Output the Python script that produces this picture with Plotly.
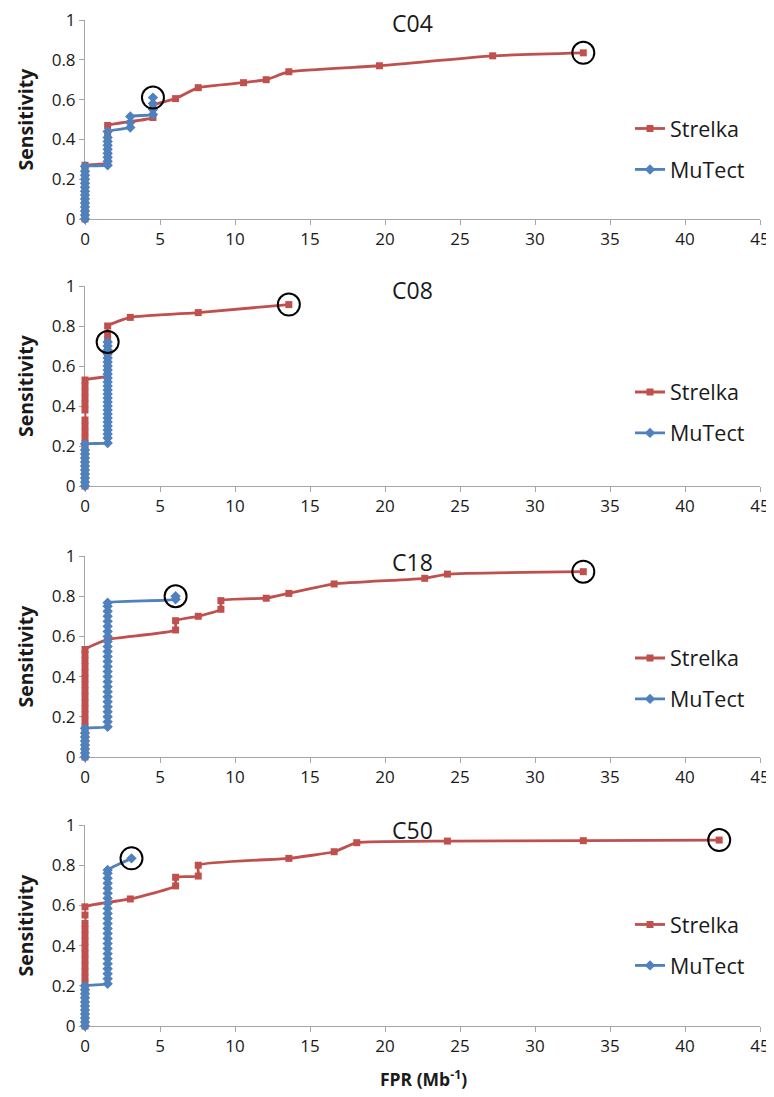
import plotly.graph_objects as go

# ---------------- data (FPR per Mb, sensitivity) ----------------
samples = ["C04", "C08", "C18", "C50"]

c04_strelka_fpr = [0, 0, 0, 0, 0, 0, 0, 0, 0, 0,
                   1.51, 1.51, 1.51, 1.51, 1.51, 1.51, 1.51,
                   4.53, 4.53, 6.04, 7.55, 10.57, 12.08, 13.59, 19.63, 27.18, 33.22]
c04_strelka_sens = [0, 0.03, 0.06, 0.09, 0.12, 0.15, 0.18, 0.21, 0.24, 0.27,
                    0.28, 0.31, 0.34, 0.37, 0.40, 0.43, 0.47,
                    0.51, 0.57, 0.605, 0.66, 0.685, 0.70, 0.74, 0.77, 0.82, 0.835]
c04_mutect_fpr = [0, 0, 0, 0, 0, 0, 0, 0, 0, 0, 0, 0, 0, 0,
                  1.51, 1.51, 1.51, 1.51, 1.51, 1.51, 1.51, 1.51, 1.51,
                  3.02, 3.02, 3.02, 4.53, 4.53, 4.53, 4.53]
c04_mutect_sens = [0, 0.02, 0.04, 0.06, 0.08, 0.10, 0.12, 0.14, 0.16, 0.18, 0.20, 0.22, 0.24, 0.265,
                   0.27, 0.29, 0.31, 0.33, 0.35, 0.37, 0.39, 0.41, 0.44,
                   0.46, 0.485, 0.515, 0.525, 0.55, 0.58, 0.61]

c08_strelka_fpr = [0, 0, 0, 0, 0, 0, 0, 0, 0, 0, 0, 0, 0, 0, 0, 0, 0, 0,
                   1.51, 1.51, 1.51, 1.51, 1.51, 1.51, 1.51, 1.51, 1.51,
                   3.02, 7.55, 13.59]
c08_strelka_sens = [0, 0.03, 0.06, 0.09, 0.12, 0.15, 0.18, 0.21, 0.24, 0.27, 0.30, 0.33,
                    0.38, 0.41, 0.44, 0.47, 0.50, 0.53,
                    0.55, 0.58, 0.61, 0.64, 0.67, 0.70, 0.73, 0.76, 0.80,
                    0.843, 0.867, 0.907]
c08_mutect_fpr = [0, 0, 0, 0, 0, 0, 0, 0, 0, 0, 0,
                  1.51, 1.51, 1.51, 1.51, 1.51, 1.51, 1.51, 1.51, 1.51, 1.51, 1.51, 1.51, 1.51,
                  1.51, 1.51, 1.51, 1.51, 1.51, 1.51, 1.51, 1.51, 1.51, 1.51, 1.51, 1.51, 1.51]
c08_mutect_sens = [0, 0.02, 0.04, 0.06, 0.08, 0.10, 0.12, 0.14, 0.16, 0.18, 0.21,
                   0.215, 0.24, 0.26, 0.28, 0.30, 0.32, 0.34, 0.36, 0.38, 0.40, 0.42, 0.44, 0.46,
                   0.48, 0.50, 0.52, 0.54, 0.56, 0.58, 0.60, 0.62, 0.64, 0.66, 0.68, 0.70, 0.72]

c18_strelka_fpr = [0, 0, 0, 0, 0, 0, 0, 0, 0, 0, 0, 0, 0, 0, 0, 0, 0, 0, 0,
                   1.51, 6.04, 6.04, 7.55, 9.06, 9.06, 12.08, 13.59, 16.61, 22.65, 24.16, 33.22]
c18_strelka_sens = [0, 0.03, 0.06, 0.09, 0.12, 0.15, 0.18, 0.21, 0.24, 0.27, 0.30, 0.33,
                    0.36, 0.39, 0.42, 0.45, 0.48, 0.51, 0.535,
                    0.585, 0.632, 0.678, 0.70, 0.735, 0.778, 0.79, 0.814, 0.861, 0.889, 0.91, 0.922]
c18_mutect_fpr = [0, 0, 0, 0, 0, 0, 0, 0,
                  1.51, 1.51, 1.51, 1.51, 1.51, 1.51, 1.51, 1.51, 1.51, 1.51, 1.51, 1.51, 1.51,
                  1.51, 1.51, 1.51, 1.51, 1.51, 1.51, 1.51, 1.51, 1.51, 1.51, 1.51, 1.51, 1.51,
                  6.04, 6.04]
c18_mutect_sens = [0, 0.02, 0.04, 0.06, 0.08, 0.10, 0.12, 0.143,
                   0.15, 0.175, 0.20, 0.225, 0.25, 0.275, 0.30, 0.325, 0.35, 0.375, 0.40, 0.425, 0.45,
                   0.475, 0.50, 0.525, 0.55, 0.575, 0.60, 0.625, 0.65, 0.675, 0.70, 0.725, 0.75, 0.768,
                   0.785, 0.80]

c50_strelka_fpr = [0, 0, 0, 0, 0, 0, 0, 0, 0, 0, 0, 0, 0, 0, 0, 0, 0, 0, 0, 0,
                   3.02, 6.04, 6.04, 7.55, 7.55, 13.59, 16.61, 18.12, 24.16, 33.22, 42.28]
c50_strelka_sens = [0, 0.03, 0.06, 0.09, 0.12, 0.15, 0.18, 0.21, 0.24, 0.27, 0.30, 0.33,
                    0.36, 0.39, 0.42, 0.45, 0.48, 0.51, 0.552, 0.593,
                    0.632, 0.697, 0.74, 0.746, 0.80, 0.834, 0.867, 0.912, 0.92, 0.922, 0.925]
c50_mutect_fpr = [0, 0, 0, 0, 0, 0, 0, 0, 0, 0, 0,
                  1.51, 1.51, 1.51, 1.51, 1.51, 1.51, 1.51, 1.51, 1.51, 1.51, 1.51, 1.51,
                  1.51, 1.51, 1.51, 1.51, 1.51, 1.51, 1.51, 1.51, 1.51, 1.51, 1.51, 1.51,
                  3.10]
c50_mutect_sens = [0, 0.02, 0.04, 0.06, 0.08, 0.10, 0.12, 0.14, 0.16, 0.18, 0.20,
                   0.21, 0.235, 0.26, 0.285, 0.31, 0.335, 0.36, 0.385, 0.41, 0.435, 0.46, 0.485,
                   0.51, 0.535, 0.56, 0.585, 0.61, 0.635, 0.66, 0.685, 0.71, 0.735, 0.76, 0.776,
                   0.834]

x_ticks = [0, 5, 10, 15, 20, 25, 30, 35, 40, 45]
y_ticks = [0, 0.2, 0.4, 0.6, 0.8, 1]

series = {
    "C04": (c04_strelka_fpr, c04_strelka_sens, c04_mutect_fpr, c04_mutect_sens),
    "C08": (c08_strelka_fpr, c08_strelka_sens, c08_mutect_fpr, c08_mutect_sens),
    "C18": (c18_strelka_fpr, c18_strelka_sens, c18_mutect_fpr, c18_mutect_sens),
    "C50": (c50_strelka_fpr, c50_strelka_sens, c50_mutect_fpr, c50_mutect_sens),
}

# ---------------- styling / layout ----------------
RED = "#C0504D"
BLUE = "#4F81BD"
AXIS = "#A6A6A6"
FONT = "Open Sans"
TXT = "#1a1a1a"

# the page body has an 8px margin, so the figure is drawn 8px smaller and
# all page-pixel positions below are shifted by that offset
OFF = 8
W, H = 774 - OFF, 1097 - OFF
PLOT_L, PLOT_R, PLOT_T, PLOT_B = 85, 760, 20, 1026        # page pixels
ML, MR = PLOT_L - OFF, W - (PLOT_R - OFF)
MT, MB = PLOT_T - OFF, H - (PLOT_B - OFF)
plot_h = H - MT - MB
plot_w = W - ML - MR
panel_px = [(20, 219), (286, 486), (556, 757), (825, 1026)]   # top, bottom (page px)
legend_mid_px = [149, 412.5, 678.5, 945]
title_px = [23, 290, 562, 830]


def py2paper(py):
    return (PLOT_B - py) / plot_h


def px2paper(px):
    return (px - PLOT_L) / plot_w


fig = go.Figure()
layout = dict(
    width=W, height=H,
    margin=dict(l=ML, r=MR, t=MT, b=MB, autoexpand=False),
    paper_bgcolor="white", plot_bgcolor="white",
    font=dict(family=FONT, color=TXT),
    showlegend=True,
    annotations=[],
)

for i, name in enumerate(samples):
    n = i + 1
    xa = "x" if n == 1 else f"x{n}"
    ya = "y" if n == 1 else f"y{n}"
    leg = "legend" if n == 1 else f"legend{n}"
    sx, sy, mx, my = series[name]

    fig.add_trace(go.Scatter(
        x=sx, y=sy, mode="lines+markers", name="Strelka",
        xaxis=xa, yaxis=ya, legend=leg, legendgroup=f"s{n}",
        line=dict(color=RED, width=2.8, shape="spline", smoothing=0.4),
        marker=dict(symbol="square", size=7, color=RED),
        cliponaxis=False,
    ))
    fig.add_trace(go.Scatter(
        x=mx, y=my, mode="lines+markers", name="MuTect",
        xaxis=xa, yaxis=ya, legend=leg, legendgroup=f"m{n}",
        line=dict(color=BLUE, width=2.8, shape="spline", smoothing=0.4),
        marker=dict(symbol="diamond", size=8, color=BLUE),
        cliponaxis=False,
    ))
    fig.add_trace(go.Scatter(
        x=[sx[-1], mx[-1]], y=[sy[-1], my[-1]], mode="markers",
        xaxis=xa, yaxis=ya, showlegend=False, hoverinfo="skip",
        marker=dict(symbol="circle-open", size=22, color="black", line=dict(width=2)),
        cliponaxis=False,
    ))

    top, bot = panel_px[i]
    axis_common = dict(
        showgrid=False, zeroline=False, showline=True, linecolor=AXIS, linewidth=1,
        ticks="outside", ticklen=5, tickcolor=AXIS, layer="below traces",
        tickfont=dict(family=FONT, size=17, color=TXT), automargin=False,
        ticklabeloverflow="allow",
    )
    layout[f"xaxis{'' if n == 1 else n}"] = dict(
        domain=[0, 1], anchor=ya, range=[0, 45], tickvals=x_ticks, **axis_common,
    )
    layout[f"yaxis{'' if n == 1 else n}"] = dict(
        domain=[py2paper(bot), py2paper(top)], anchor=xa, range=[0, 1], tickvals=y_ticks,
        **axis_common,
    )
    layout[leg] = dict(
        x=px2paper(630), xanchor="left",
        y=py2paper(legend_mid_px[i]), yanchor="middle",
        bgcolor="rgba(0,0,0,0)", borderwidth=0,
        font=dict(family=FONT, size=21.5, color=TXT),
        tracegroupgap=10, itemwidth=30,
    )
    layout["annotations"].append(dict(
        text=name, xref="paper", yref="paper",
        x=px2paper(412), y=py2paper(title_px[i]),
        xanchor="center", yanchor="middle", showarrow=False,
        font=dict(family=FONT, size=23, color=TXT),
    ))
    layout["annotations"].append(dict(
        text="<b>Sensitivity</b>", xref="paper", yref="paper", textangle=-90,
        x=px2paper(25), y=py2paper((top + bot) / 2),
        xanchor="center", yanchor="middle", showarrow=False,
        font=dict(family=FONT, size=19.5, color=TXT),
    ))

layout["annotations"].append(dict(
    text="<b>FPR (Mb<sup>-1</sup>)</b>", xref="paper", yref="paper",
    x=px2paper(423), y=py2paper(1078),
    xanchor="center", yanchor="middle", showarrow=False,
    font=dict(family=FONT, size=17.5, color=TXT),
))

fig.update_layout(**layout)
fig.write_html("out.html")
